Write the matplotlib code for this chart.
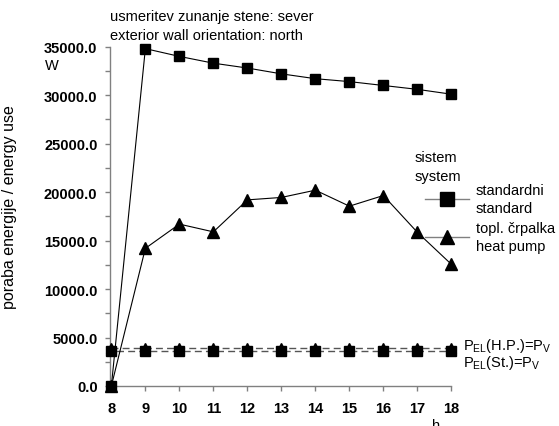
import matplotlib
matplotlib.use("Agg")
import matplotlib.pyplot as plt
from matplotlib.lines import Line2D
from matplotlib.ticker import MultipleLocator, FormatStrFormatter

plt.rcParams['font.family'] = ['Liberation Sans', 'DejaVu Sans']
plt.rcParams['font.size'] = 10.5
plt.rcParams['mathtext.fontset'] = 'custom'
plt.rcParams['mathtext.rm'] = 'Liberation Sans'
plt.rcParams['mathtext.it'] = 'Liberation Sans'
plt.rcParams['mathtext.bf'] = 'Liberation Sans:bold'

# hourly energy use, W
hours = [8, 9, 10, 11, 12, 13, 14, 15, 16, 17, 18]
standard = [0, 34800, 34000, 33300, 32800, 32200, 31700, 31400, 31000, 30600, 30100]
heat_pump = [0, 14200, 16700, 15900, 19200, 19450, 20200, 18550, 19650, 15850, 12550]
# electric power limits P_EL = P_V
pel_hp = [3900] * len(hours)
pel_st = [3600] * len(hours)

W, H = 559, 427
fig = plt.figure(figsize=(W / 100, H / 100), dpi=100)
ax = fig.add_axes([110 / W, 40 / H, 341.4 / W, 339.3 / H])

grey = '#808080'
ax.plot(hours, pel_hp, color='#555555', lw=1.0, linestyle=(0, (5, 3)), marker='^',
        ms=7.5, mfc='black', mec='black', clip_on=False, zorder=3)
ax.plot(hours, pel_st, color='#555555', lw=1.0, linestyle=(4, (5, 3)),
        marker='s', ms=6.5, mfc='black', mec='black', clip_on=False, zorder=3)
ax.plot(hours, standard, color='black', lw=0.8, marker='s', ms=6.5,
        clip_on=False, zorder=4)
ax.plot(hours, heat_pump, color='black', lw=0.8, marker='^', ms=8,
        clip_on=False, zorder=4)

ax.set_xlim(7.96, 18)
ax.set_ylim(0, 35000)
ax.xaxis.set_major_locator(MultipleLocator(1))
ax.yaxis.set_major_locator(MultipleLocator(5000))
ax.yaxis.set_minor_locator(MultipleLocator(2500))
ax.yaxis.set_major_formatter(FormatStrFormatter('%.1f'))

for s in ['top', 'right']:
    ax.spines[s].set_visible(False)
for s in ['left', 'bottom']:
    ax.spines[s].set_color(grey)
    ax.spines[s].set_linewidth(1.0)

ax.tick_params(axis='both', which='both', direction='out', length=3.5,
               width=1.0, color=grey)
ax.tick_params(axis='y', pad=5.5)
ax.tick_params(axis='x', pad=7)
for lab in ax.get_xticklabels() + ax.get_yticklabels():
    lab.set_fontweight('bold')

ax.set_ylabel('poraba energije / energy use', fontsize=11.5)
ax.yaxis.set_label_coords(-0.272, 0.53)
ax.set_xlabel('čas / time')
ax.xaxis.set_label_coords(0.5, -0.115)

fig.text(110 / W, 1 - 17 / H, 'usmeritev zunanje stene: sever', va='center', ha='left')
fig.text(110 / W, 1 - 36 / H, 'exterior wall orientation: north', va='center', ha='left')
fig.text(45 / W, 1 - 66 / H, 'W', va='center', ha='left')
fig.text(436 / W, 1 - 426 / H, 'h', va='center', ha='center')

# labels for the dashed limit lines
fig.text(463 / W, 1 - 350 / H, r'$\mathregular{P_{EL}}\text{(H.P.)=}\mathregular{P_V}$',
         va='baseline', ha='left')
fig.text(463 / W, 1 - 367 / H, r'$\mathregular{P_{EL}}\text{(St.)=}\mathregular{P_V}$',
         va='baseline', ha='left')

# legend
fig.text(415 / W, 1 - 158 / H, 'sistem', va='center', ha='left')
fig.text(415 / W, 1 - 177 / H, 'system', va='center', ha='left')
handles = [Line2D([], [], color=grey, lw=1.0, marker='s', ms=10.5, mfc='black', mec='black'),
           Line2D([], [], color=grey, lw=1.0, marker='^', ms=10.5, mfc='black', mec='black')]
labels = ['standardni\nstandard', 'topl. črpalka\nheat pump']
leg = fig.legend(handles, labels, loc='upper left', bbox_to_anchor=(425 / W, 1 - 184 / H),
                 frameon=False, borderpad=0, borderaxespad=0, handlelength=3.0,
                 handletextpad=0.5, labelspacing=0.4)
for t in leg.get_texts():
    t.set_linespacing(1.35)

fig.savefig('out.png', dpi=100)
